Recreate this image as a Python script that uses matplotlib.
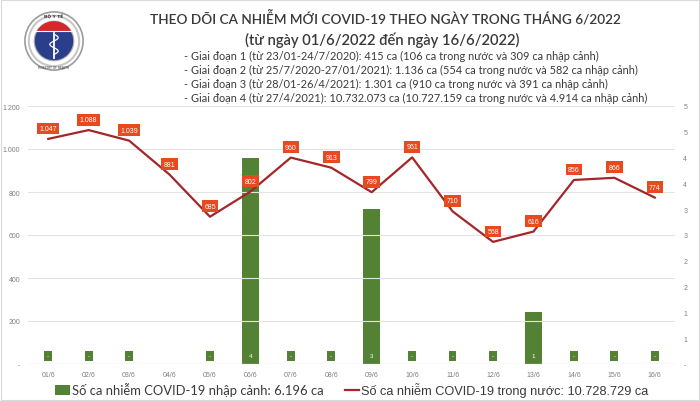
import numpy as np
import matplotlib
matplotlib.use("Agg")
import matplotlib.pyplot as plt
from matplotlib.patches import Circle, Rectangle
from matplotlib.ticker import FixedLocator, FixedFormatter

# ---------------- data ----------------
days = ["01/6", "02/6", "03/6", "04/6", "05/6", "06/6", "07/6", "08/6",
        "09/6", "10/6", "11/6", "12/6", "13/6", "14/6", "15/6", "16/6"]
imported = [0, 0, 0, np.nan, 0, 4, 0, 0, 3, 0, 0, 0, 1, 0, 0, 0]
domestic = [1047, 1088, 1039, 881, 685, 802, 960, 913, 799, 961, 710, 568,
            616, 856, 866, 774]
domestic_labels = ["1.047", "1.088", "1.039", "881", "685", "802", "960", "913",
                   "799", "961", "710", "568", "616", "856", "866", "774"]
left_ticks = [0, 200, 400, 600, 800, 1000, 1200]
left_tick_labels = ["-", "200", "400", "600", "800", "1.000", "1.200"]
right_ticks = [0, 0.5, 1, 1.5, 2, 2.5, 3, 3.5, 4, 4.5, 5]
right_tick_labels = ["-", "1", "1", "2", "2", "3", "3", "4", "4", "5", "5"]

title = "THEO DÕI CA NHIỄM MỚI COVID-19 THEO NGÀY TRONG THÁNG 6/2022"
subtitle = "(từ ngày 01/6/2022 đến ngày 16/6/2022)"
notes = [
    "- Giai đoạn 1 (từ 23/01-24/7/2020): 415 ca (106 ca trong nước và 309 ca nhập cảnh)",
    "- Giai đoạn 2 (từ 25/7/2020-27/01/2021): 1.136 ca (554 ca trong nước và 582 ca nhập cảnh)",
    "- Giai đoạn 3 (từ 28/01-26/4/2021): 1.301 ca (910 ca trong nước và 391 ca nhập cảnh)",
    "- Giai đoạn 4 (từ 27/4/2021): 10.732.073 ca (10.727.159 ca trong nước và 4.914 ca nhập cảnh)",
]
legend_bar = "Số ca nhiễm COVID-19 nhập cảnh: 6.196 ca"
legend_line = "Số ca nhiễm COVID-19 trong nước: 10.728.729 ca"

# ---------------- style ----------------
GREEN = "#548235"
LINE = "#A3262A"
LABEL = "#E84A1F"
GRID = "#E3E3E3"
TICK = "#808080"
TEXT = "#3A3A3A"

W, H = 700, 402
fig = plt.figure(figsize=(W / 100, H / 100), dpi=100)
fig.patch.set_facecolor("white")

def fx(px):
    return px / W

def fy(py):
    return 1 - py / H

ax = fig.add_axes([fx(28), fy(365), fx(675) - fx(28), fy(107) - fy(365)])
ax2 = ax.twinx()
ax.set_zorder(ax2.get_zorder() + 1)
ax.patch.set_visible(False)

x = np.arange(len(days))

# bars on the secondary axis
ax2.bar(x, imported, width=0.42, color=GREEN, zorder=2, label=legend_bar)
ax2.set_ylim(0, 5)
ax2.yaxis.set_major_locator(FixedLocator(right_ticks))
ax2.yaxis.set_major_formatter(FixedFormatter(right_tick_labels))
for i, v in enumerate(imported):
    if np.isnan(v):
        continue
    txt = "-" if v == 0 else str(int(v))
    ax2.annotate(txt, (x[i], 0), xytext=(0, 5.8), textcoords="offset points",
                 ha="center", va="center", fontsize=4.5, color="white",
                 family="Liberation Sans",
                 bbox=dict(boxstyle="square,pad=0.45", fc=GREEN, ec="none"),
                 zorder=3)

# line on the primary axis
line, = ax.plot(x, domestic, color=LINE, lw=1.6, zorder=4, label=legend_line)
ax.set_ylim(0, 1200)
ax.set_xlim(-0.5, len(days) - 0.5)
ax.yaxis.set_major_locator(FixedLocator(left_ticks))
ax.yaxis.set_major_formatter(FixedFormatter(left_tick_labels))
for i, v in enumerate(domestic):
    ax.annotate(domestic_labels[i], (x[i], v), xytext=(0, 7.5),
                textcoords="offset points", ha="center", va="center",
                fontsize=5, color="white", family="Liberation Sans",
                bbox=dict(boxstyle="square,pad=0.35", fc=LABEL, ec="none"),
                zorder=5)

# grid and axes styling
for t in left_ticks[1:]:
    ax.axhline(t, color=GRID, lw=0.8, zorder=0)
ax.axhline(0, color="#D0D0D0", lw=0.9, zorder=1)
for a in (ax, ax2):
    for s in a.spines.values():
        s.set_visible(False)
    a.tick_params(length=0, colors=TICK, labelsize=5)
ax.set_xticks(x)
ax.set_xticklabels(days)
ax.tick_params(axis="x", pad=5)
ax.tick_params(axis="y", pad=5.5)
ax2.tick_params(axis="y", pad=6)
for lab in ax.get_xticklabels() + ax.get_yticklabels() + ax2.get_yticklabels():
    lab.set_family("Liberation Sans")

# ---------------- texts ----------------
fig.text(fx(385), fy(19), title, ha="center", va="center", fontsize=9.8,
         family="Lato", weight="semibold", color=TEXT)
fig.text(fx(382), fy(40), subtitle, ha="center", va="center", fontsize=10.6,
         family="Lato", weight="semibold", color=TEXT)
for k, s in enumerate(notes):
    fig.text(fx(184), fy(56 + 14 * k), s, ha="left", va="center", fontsize=7.9,
             family="Lato", color=TEXT)

# ---------------- legend ----------------
leg = fig.legend(handles=[ax2.containers[0], line], labels=[legend_bar, legend_line],
                 loc="center", bbox_to_anchor=(fx(352), fy(391)), ncol=2,
                 frameon=False, fontsize=9.3, handlelength=1.15, handleheight=0.75,
                 handletextpad=0.15, columnspacing=1.6, borderaxespad=0)
texts = leg.get_texts()
texts[0].set_family("Lato")
texts[0].set_fontsize(9.4)
texts[1].set_family("Liberation Sans")
texts[1].set_fontsize(9.2)
for t in texts:
    t.set_color(TEXT)

# ---------------- logo ----------------
lax = fig.add_axes([fx(24), fy(72), fx(60), fy(0) - fy(60)])
lax.set_xlim(-1, 1)
lax.set_ylim(-1, 1)
lax.set_aspect("equal")
lax.axis("off")
lax.add_patch(Circle((0, 0), 0.97, fc="white", ec="#9C9C9C", lw=1.2))
lax.add_patch(Circle((0, 0), 0.84, fc="none", ec="#C8C8C8", lw=1.5))
blue = Circle((0, 0), 0.66, fc="#2B3E8C", ec="#B0B0B0", lw=0.8)
lax.add_patch(blue)
red = Rectangle((-1, 0.35), 2, 0.7, fc="#D8262A", ec="none")
lax.add_patch(red)
red.set_clip_path(blue)
lax.plot([-0.62, 0.62], [0.35, 0.35], color="white", lw=0.8)
lax.plot([0, 0], [-0.55, 0.28], color="white", lw=1.3)
ys = np.linspace(-0.45, 0.2, 40)
lax.plot(0.14 * np.sin(ys * 14), ys, color="white", lw=0.9)
lax.text(0, 0.84, "BỘ Y TẾ", ha="center", va="center", fontsize=3.2,
         color="#333333", weight="bold")
lax.text(0, -0.86, "MINISTRY OF HEALTH", ha="center", va="center", fontsize=2.2,
         color="#333333")

# frame
fig.add_artist(Rectangle((0.001, 0.002), 0.997, 0.995, transform=fig.transFigure,
                         fill=False, ec="#DADADA", lw=0.8))

fig.savefig("out.png", dpi=100)
